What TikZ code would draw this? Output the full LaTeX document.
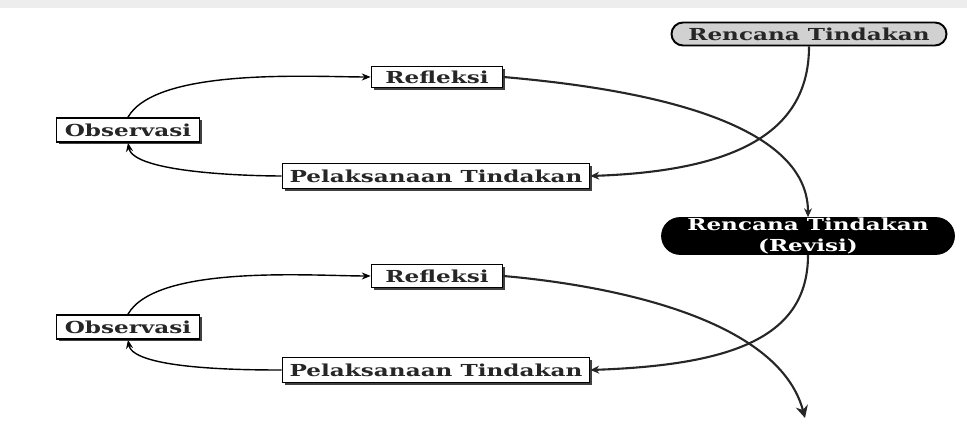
\documentclass[tikz,border=0pt]{standalone}
\usepackage{fontspec}
\newfontfamily\boxfont[FakeStretch=1.4]{DejaVu Serif}
\usetikzlibrary{arrows.meta,shadows,shapes.misc}

\tikzset{
  box/.style={draw,line width=1pt,rectangle,fill=white,text=black!85,inner sep=0pt,
    font=\boxfont\bfseries\fontsize{9.4}{10}\selectfont,
    drop shadow={shadow xshift=1.4pt,shadow yshift=-1.4pt,fill=black!75,opacity=1}},
  plan/.style={draw,line width=1.1pt,rounded rectangle,fill=black!18,text=black!85,inner sep=0pt,
    font=\boxfont\bfseries\fontsize{9.4}{10}\selectfont},
  revisi/.style={draw,rounded rectangle,fill=black,text=white,inner sep=0pt,align=center,
    font=\boxfont\bfseries\fontsize{9.4}{11.5}\selectfont},
  loopline/.style={thick,-{Stealth[length=5pt,width=4pt]}},
  flow/.style={very thick,black!85,-{Stealth[length=5pt,width=4.5pt]}}
}

\begin{document}
\begin{tikzpicture}[x=0.2mm,y=0.2mm]
      \useasboundingbox (0,0) rectangle (967,427);
      \fill[black!7] (0,419) rectangle (967,427);

      % first cycle
      \node[plan,minimum width=5.5cm,minimum height=0.46cm] (rt) at (809,393) {Rencana Tindakan};
      \node[box,minimum width=2.62cm,minimum height=0.42cm] (ref1) at (437,350) {Refleksi};
      \node[box,minimum width=2.86cm,minimum height=0.48cm] (obs1) at (128,297) {Observasi};
      \node[box,minimum width=6.14cm,minimum height=0.5cm] (pel1) at (436,251) {Pelaksanaan Tindakan};

      % second cycle
      \node[revisi,minimum width=5.86cm,minimum height=0.74cm] (rev) at (808,191) {Rencana Tindakan\\(Revisi)};
      \node[box,minimum width=2.62cm,minimum height=0.46cm] (ref2) at (437,151) {Refleksi};
      \node[box,minimum width=2.86cm,minimum height=0.48cm] (obs2) at (128,100) {Observasi};
      \node[box,minimum width=6.14cm,minimum height=0.5cm] (pel2) at (436,57) {Pelaksanaan Tindakan};

      \coordinate (next) at (805,9);

      \draw[flow] (rt.south) to[out=-90,in=2,out looseness=0.85,in looseness=1.5] (pel1.east);
      \draw[loopline] (pel1.west) to[out=180,in=-80,looseness=0.5] (obs1.south);
      \draw[loopline] (obs1.north) to[out=60,in=180,looseness=0.6] (ref1.west);
      \draw[flow] (ref1.east) to[out=-5,in=90,looseness=0.8] (rev.north);

      \draw[flow] (rev.south) to[out=-90,in=2,out looseness=0.85,in looseness=1.5] (pel2.east);
      \draw[loopline] (pel2.west) to[out=180,in=-80,looseness=0.5] (obs2.south);
      \draw[loopline] (obs2.north) to[out=60,in=180,looseness=0.6] (ref2.west);
      \draw[flow,-{Stealth[length=7pt,width=7pt]}] (ref2.east) to[out=-5,in=105,looseness=0.8] (next);

    \end{tikzpicture}
\end{document}
